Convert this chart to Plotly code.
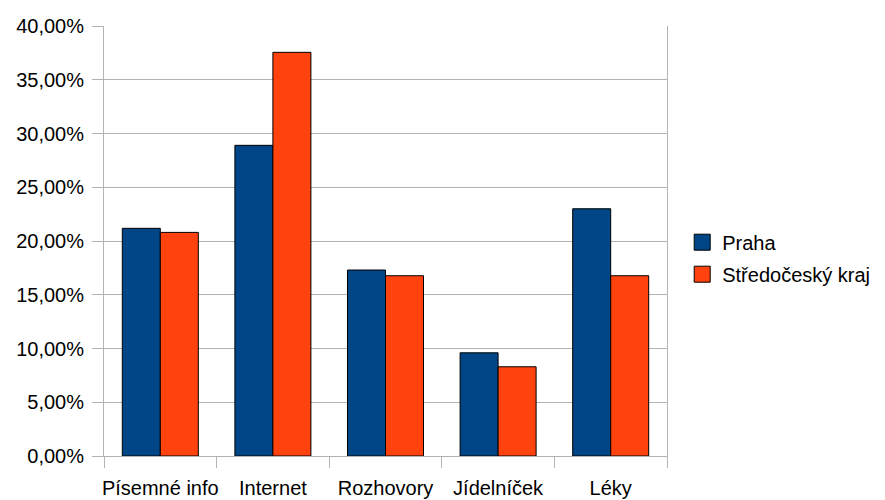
import plotly.graph_objects as go

# Survey shares by information source, two regions
categories = ["Písemné info", "Internet", "Rozhovory", "Jídelníček", "Léky"]
praha = [0.2118, 0.2890, 0.1730, 0.0960, 0.2300]
stredocesky = [0.2080, 0.3755, 0.1677, 0.0830, 0.1677]
series_names = ["Praha", "Středočeský kraj"]
series_colors = ["#004586", "#ff420e"]

GRID = "#b3b3b3"
FONT = dict(family="Liberation Sans, Arial, sans-serif", size=20, color="#000000")

fig = go.Figure()
for name, vals, col in zip(series_names, [praha, stredocesky], series_colors):
    fig.add_trace(go.Bar(
        x=categories, y=vals, name=name, legendgroup=name,
        marker=dict(color=col, line=dict(color="#000000", width=1)),
        showlegend=False,
    ))
    # legend entry with a larger square swatch
    fig.add_trace(go.Scatter(
        x=[None], y=[None], mode="markers", name=name, legendgroup=name,
        marker=dict(symbol="square", size=16, color=col,
                    line=dict(color="#000000", width=1)),
    ))

fig.update_layout(
    width=885, height=500,
    margin=dict(l=104, r=218, t=26, b=44, autoexpand=False),
    paper_bgcolor="white", plot_bgcolor="white",
    font=FONT,
    separators=", ",
    barmode="group", bargap=0.325, bargroupgap=0,
    legend=dict(x=1.027, y=0.46, xanchor="left", yanchor="middle",
                font=FONT, bgcolor="rgba(0,0,0,0)", tracegroupgap=3),
)
fig.update_xaxes(
    showline=True, linecolor=GRID, linewidth=1,
    ticks="outside", tickson="boundaries", ticklen=11, tickcolor=GRID,
    showgrid=False, tickfont=FONT, tickangle=0, ticklabelstandoff=14,
)
fig.update_yaxes(
    range=[0, 0.4], dtick=0.05, tickformat=".2%",
    showgrid=True, gridcolor=GRID, gridwidth=1,
    showline=True, linecolor=GRID, linewidth=1, mirror=True,
    ticks="outside", ticklen=11, tickcolor=GRID, ticklabelstandoff=4,
    zeroline=False, tickfont=FONT,
)

fig.write_html("out.html")
